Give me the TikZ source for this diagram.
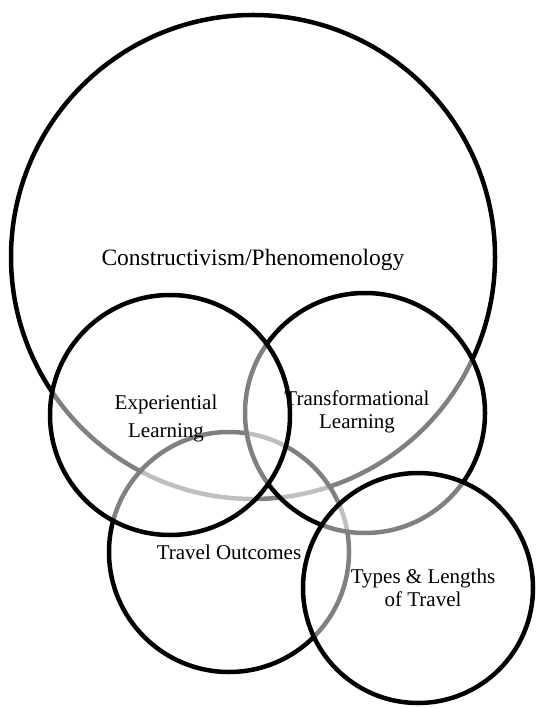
\documentclass[tikz,border=0pt]{standalone}
\usepackage{fontspec}
\setmainfont{Liberation Serif}
\usetikzlibrary{positioning}
\tikzset{
  venn/.style={circle, draw=black, line width=4.5pt, fill=white, fill opacity=0.5, inner sep=0pt, minimum size=#1},
  lbl/.style={align=center, font=\fontsize{21}{23}\selectfont, inner sep=0pt}
}

\begin{document}
\begin{tikzpicture}[x=1pt,y=-1pt]
			%%%%% START %%%%%
			\useasboundingbox (0,0) rectangle (535,708);
			
			% circles, back to front
			\node[venn=484pt] (big) at (253,257) {};
			\node[venn=240pt] (travel) at (229,552) {};
			\node[venn=240pt] (trans) at (365,413) {};
			\node[venn=240pt] (exp) at (170,415) {};
			\node[venn=230pt] (types) at (418,588) {};
			
			% labels on top
			\node[lbl, font=\fontsize{23.5}{26}\selectfont] (bigtxt) at ([yshift=-3pt]big.center) {Constructivism/Phenomenology};
			\node[lbl] (exptxt) at ([xshift=-4pt,yshift=-3pt]exp.center) {Experiential\\[5pt]Learning};
			\node[lbl] (transtxt) at ([xshift=-8pt,yshift=1pt]trans.center) {Transformational\\Learning};
			\node[lbl] (traveltxt) at (travel.center) {Travel Outcomes};
			\node[lbl] (typestxt) at ([xshift=5pt]types.center) {Types \& Lengths\\of Travel};
			
			%%%%% END %%%%%
\end{tikzpicture}
\end{document}
